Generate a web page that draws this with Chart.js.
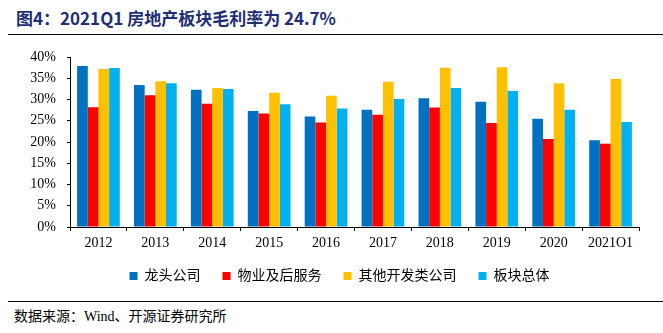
<!DOCTYPE html>
<html>
<head>
<meta charset="utf-8">
<script src="https://cdn.jsdelivr.net/npm/chart.js@4/dist/chart.umd.min.js"></script>
<style>
  body { margin: 0; background: #fff; }
  #wrap { position: relative; width: 663px; height: 333px; overflow: hidden; }
  #title {
    position: absolute; left: 16px; top: 5px;
    font: bold 17px "Noto Sans CJK SC", "DejaVu Sans", sans-serif;
    color: #1f2f73; white-space: nowrap;
  }
  .rule { position: absolute; left: 8px; right: 0; height: 0; border-top: 1.5px solid #000; }
  #source {
    position: absolute; left: 14px; top: 305px;
    font: 14px "Liberation Serif", "Noto Sans CJK SC", serif;
    color: #000; white-space: nowrap;
  }
  #box { position: absolute; left: 0; top: 0; width: 663px; height: 293px; }
</style>
</head>
<body>
<div id="wrap">
  <div id="title">图4：2021Q1 房地产板块毛利率为 24.7%</div>
  <div class="rule" style="top:34px"></div>
  <div id="box"><canvas id="c"></canvas></div>
  <div class="rule" style="top:301px"></div>
  <div id="source">数据来源：Wind、开源证券研究所</div>
</div>
<script>
const categories = ["2012", "2013", "2014", "2015", "2016", "2017", "2018", "2019", "2020", "2021Q1"];
const leaders    = [37.9, 33.4, 32.3, 27.3, 26.0, 27.6, 30.3, 29.5, 25.5, 20.4];
const property   = [28.2, 31.0, 29.0, 26.7, 24.6, 26.4, 28.1, 24.5, 20.7, 19.6];
const others     = [37.2, 34.3, 32.7, 31.6, 30.9, 34.2, 37.5, 37.6, 33.8, 34.8];
const sector     = [37.4, 33.8, 32.5, 28.9, 27.9, 30.1, 32.7, 32.0, 27.6, 24.7];
const seriesNames = ["龙头公司", "物业及后服务", "其他开发类公司", "板块总体"];
const colors = ["#0070c0", "#ff0000", "#ffc000", "#00b0f0"];

const serif = "'Liberation Serif', 'Noto Sans CJK SC', serif";

// centre the legend under the plot area instead of the whole canvas
const legendShift = {
  id: "legendShift",
  afterLayout(chart) {
    chart.legend.left += 20;
    chart.legend.right += 20;
  },
};

new Chart(document.getElementById("c"), {
  type: "bar",
  data: {
    labels: categories,
    datasets: [leaders, property, others, sector].map((d, i) => ({
      label: seriesNames[i],
      data: d,
      backgroundColor: colors[i],
      borderWidth: 0,
      categoryPercentage: 0.75,
      barPercentage: 1.0,
    })),
  },
  options: {
    responsive: true,
    maintainAspectRatio: false,
    animation: false,
    layout: { padding: { top: 57, right: 24, left: 0, bottom: 0 } },
    plugins: {
      tooltip: { enabled: false },
      legend: {
        position: "bottom",
        labels: {
          boxWidth: 8, boxHeight: 8, padding: 22,
          color: "#000",
          font: { family: serif, size: 14 },
        },
      },
    },
    scales: {
      x: {
        afterFit: (s) => { s.height = 20; },
        grid: { offset: true, drawOnChartArea: false, drawTicks: true, tickLength: 4, color: "#000" },
        border: { color: "#000", width: 1 },
        ticks: { color: "#000", padding: 4, font: { family: serif, size: 14 }, maxRotation: 0 },
      },
      y: {
        min: 0, max: 40,
        afterFit: (s) => { s.width = 70; },
        grid: { drawOnChartArea: false, drawTicks: true, tickLength: 3, color: "#000" },
        border: { color: "#000", width: 1 },
        ticks: {
          stepSize: 5, color: "#000", padding: 11,
          font: { family: serif, size: 14 },
          callback: (v) => v + "%",
        },
      },
    },
  },
  plugins: [legendShift],
});
</script>
</body>
</html>
